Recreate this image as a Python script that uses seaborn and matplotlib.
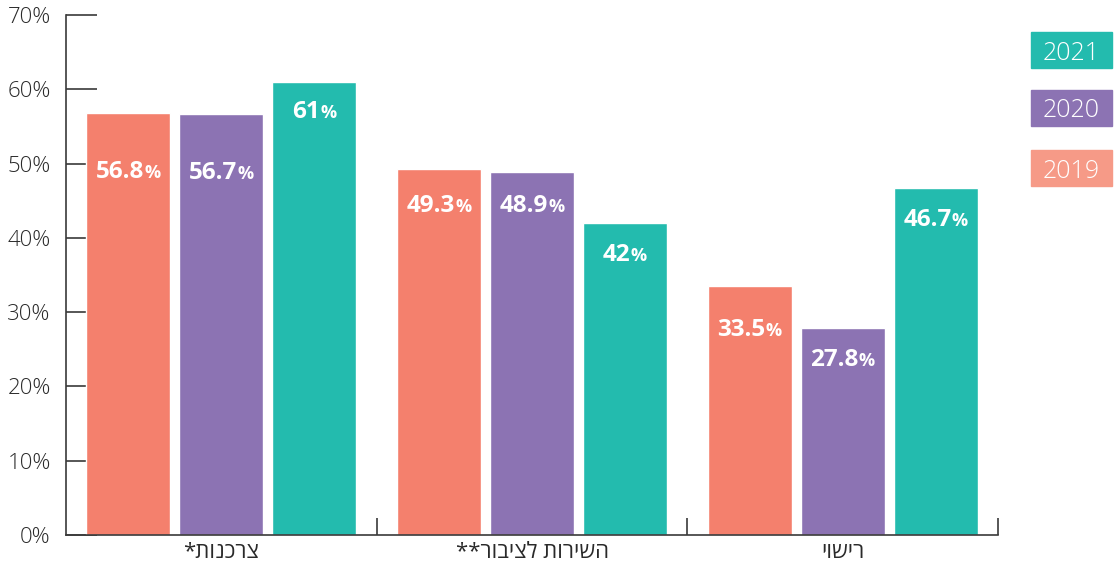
import matplotlib
matplotlib.use("Agg")
import matplotlib.pyplot as plt
import numpy as np
import pandas as pd
import seaborn as sns
from matplotlib.patches import Rectangle
from matplotlib.offsetbox import TextArea, HPacker, AnnotationBbox

# ---- data ----
categories = ["צרכנות*", "השירות לציבור**", "רישוי"]
years = ["2019", "2020", "2021"]
values_2019 = [56.8, 49.3, 33.5]
values_2020 = [56.7, 48.9, 27.8]
values_2021 = [61, 42, 46.7]
value_labels_2019 = ["56.8", "49.3", "33.5"]
value_labels_2020 = ["56.7", "48.9", "27.8"]
value_labels_2021 = ["61", "42", "46.7"]
ytick_values = [0, 10, 20, 30, 40, 50, 60, 70]
ytick_labels = ["0%", "10%", "20%", "30%", "40%", "50%", "60%", "70%"]

# ---- style ----
colors = {"2019": "#F4806D", "2020": "#8C73B3", "2021": "#23BBAE"}
legend_colors = {"2019": "#F69A87", "2020": "#8C73B3", "2021": "#23BBAE"}
label_drop_px = {"2019": [59, 37, 44], "2020": [59, 34, 32], "2021": [30, 32, 32]}

sns.set_theme(style="white")
plt.rcParams["font.family"] = ["Open Sans", "DejaVu Sans"]

df = pd.DataFrame({
    "category": categories * 3,
    "year": ["2019"] * 3 + ["2020"] * 3 + ["2021"] * 3,
    "value": values_2019 + values_2020 + values_2021,
})
labels_by_year = {"2019": value_labels_2019, "2020": value_labels_2020, "2021": value_labels_2021}

fig = plt.figure(figsize=(11.15, 5.63), dpi=100)
ax = fig.add_axes([66 / 1115, 28 / 563, 932 / 1115, 520 / 563])

sns.barplot(data=df, x="category", y="value", hue="year", order=categories,
            hue_order=years, palette=colors, width=0.898, gap=0.097,
            saturation=1, legend=False, ax=ax)

ax.set_xlim(-0.5, 2.5)
ax.set_ylim(0, 70)
ax.set_xlabel("")
ax.set_ylabel("")

# spines
for s in ["top", "right"]:
    ax.spines[s].set_visible(False)
for s in ["left", "bottom"]:
    ax.spines[s].set_color("#3a3a3a")
    ax.spines[s].set_linewidth(1.2)

# y ticks
ax.set_yticks(ytick_values)
ax.set_yticklabels(ytick_labels)
ax.tick_params(axis="y", direction="in", length=22, width=1.2, color="#3a3a3a",
               labelsize=16, labelcolor="#2a2a2a", pad=11, left=True)
for t in ax.get_yticklabels():
    t.set_fontweight("light")

# x ticks (visual RTL by reversing the Hebrew strings)
ax.set_xticks(range(len(categories)))
ax.set_xticklabels([c[::-1] for c in categories], fontsize=16, color="#2a2a2a")
ax.tick_params(axis="x", length=0, pad=5, bottom=True)
ax.set_xticks([0.5, 1.5, 2.5], minor=True)
ax.tick_params(axis="x", which="minor", direction="in", length=12, width=1.2,
               color="#3a3a3a", bottom=True)

# value labels
for year, cont in zip(years, ax.containers):
    for i, bar in enumerate(cont):
        xc = bar.get_x() + bar.get_width() / 2
        h = bar.get_height()
        num = TextArea(labels_by_year[year][i],
                       textprops=dict(color="white", fontsize=17.5, fontweight="bold"))
        pct = TextArea("%", textprops=dict(color="white", fontsize=13, fontweight="bold"))
        box = HPacker(children=[num, pct], align="baseline", pad=0, sep=0)
        ab = AnnotationBbox(box, (xc, h), xybox=(0, -label_drop_px[year][i] * 0.72),
                            boxcoords="offset points", frameon=False,
                            box_alignment=(0.5, 0.5))
        ax.add_artist(ab)

# legend boxes
legend_tops = {"2021": 32, "2020": 90, "2019": 150}
for year in ["2021", "2020", "2019"]:
    top = legend_tops[year]
    x0, w, hgt = 1031, 81, 36
    fig.patches.append(Rectangle((x0 / 1115, 1 - (top + hgt) / 563), w / 1115, hgt / 563,
                                 transform=fig.transFigure, color=legend_colors[year],
                                 zorder=1))
    fig.text((x0 + w / 2) / 1115, 1 - (top + hgt / 2) / 563, year, color="white",
             fontsize=18, fontweight="light", ha="center", va="center_baseline")

fig.savefig("out.png", dpi=100)
